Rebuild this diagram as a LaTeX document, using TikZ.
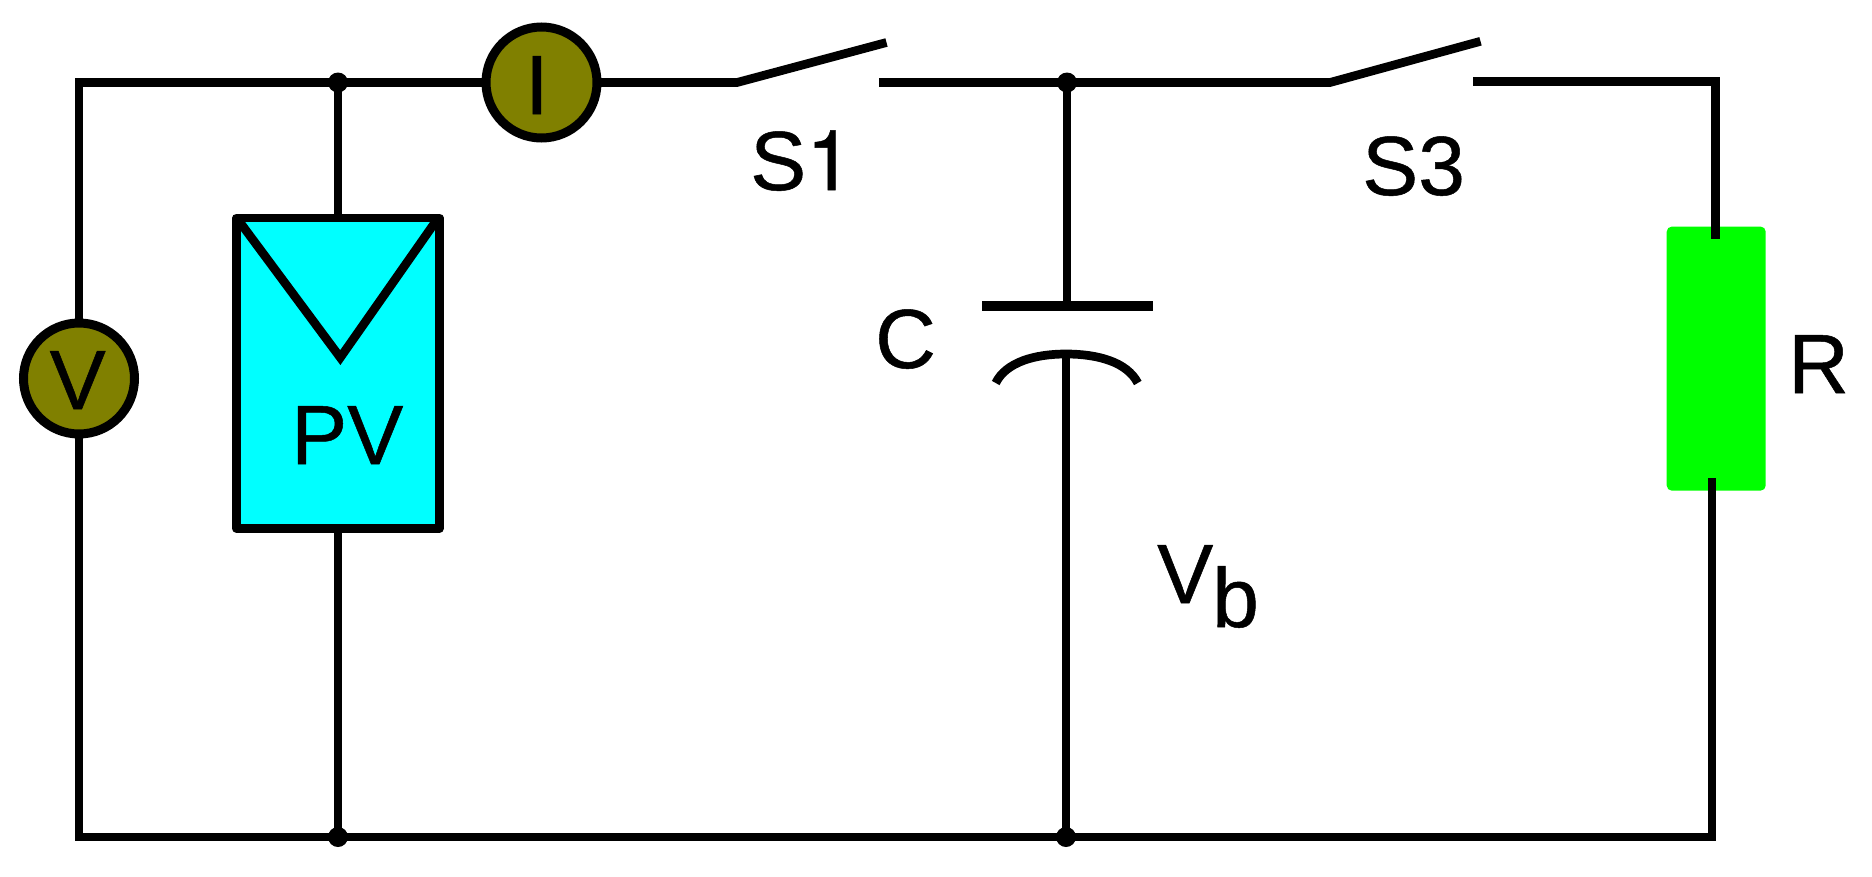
\documentclass[tikz,border=0pt]{standalone}
\usepackage{fontspec}
\setmainfont{Liberation Sans}[FakeBold=0.6]
\newfontfamily\oneface{TeX Gyre Heros}[FakeBold=0.6]
\definecolor{meterolive}{HTML}{808000}
\definecolor{pvcyan}{HTML}{00FFFF}
\definecolor{resgreen}{HTML}{00FF00}
\tikzset{
  wire/.style={line width=8.7pt,draw=black,line cap=butt,line join=miter},
  meter/.style={circle,draw=black,line width=9pt,fill=meterolive,minimum size=111pt,inner sep=0pt,outer sep=0pt},
  joint/.style={circle,fill=black,inner sep=0pt,outer sep=0pt,minimum size=20pt},
  lbl/.style={inner sep=0pt,anchor=base west,font=\fontsize{84}{84}\selectfont,text=black}
}
\begin{document}
\begin{tikzpicture}[x=1pt,y=-1pt]
\useasboundingbox (0,0) rectangle (1872,876);
\fill[white] (0,0) rectangle (1872,876);
% coordinates
\coordinate (tl) at (79,82.5);
\coordinate (bl) at (79,837);
\coordinate (sw1a) at (737,82.5);
\coordinate (sw1b) at (886.5,42.5);
\coordinate (sw1c) at (879.4,82.5);
\coordinate (sw3a) at (1330,82.5);
\coordinate (sw3b) at (1480.5,41.3);
\coordinate (sw3c) at (1473.3,81.6);
\coordinate (tr) at (1715.7,81.6);
\coordinate (rtop) at (1715.7,239);
\coordinate (rbot) at (1712,478);
\coordinate (br) at (1712,837);
\coordinate (capa) at (1067,306);
\coordinate (capl) at (982,306);
\coordinate (capr) at (1153.3,306);
\coordinate (arcl) at (995.7,383);
\coordinate (arcr) at (1137.8,383);
\coordinate (arct) at (1066,354);
\coordinate (pvA) at (239,221);
\coordinate (pvB) at (340.3,357.6);
\coordinate (pvC) at (436,221);
% resistor body
\node[fill=resgreen,rounded corners=5pt,inner sep=0pt,minimum width=99pt,minimum height=264pt] (res) at (1716.2,358.6) {};
% PV panel
\node[rectangle,draw=black,fill=pvcyan,line width=8.7pt,line join=round,inner sep=0pt,outer sep=0pt,minimum width=203pt,minimum height=310.5pt] (pv) at (337.9,373.2) {};
\draw[wire] (pvA) -- (pvB) -- (pvC);
% meters
\node[meter] (mI) at (541.5,82.5) {};
\node[meter] (mV) at (79,378.5) {};
% junctions
\node[joint] (jtl) at (338,82.5) {};
\node[joint] (jtc) at (1067,82.5) {};
\node[joint] (jbl) at (338,837) {};
\node[joint] (jbc) at (1066,837) {};
% wires
\draw[wire] (mV) -- (tl) -- (jtl.center);
\draw[wire] (jtl.center) -- (mI);
\draw[wire] (mI) -- (sw1a) -- (sw1b);
\draw[wire] (sw1c) -- (jtc.center);
\draw[wire] (jtc.center) -- (sw3a) -- (sw3b);
\draw[wire] (sw3c) -- (tr) -- (rtop);
\draw[wire] (rbot) -- (br) -- (jbc.center);
\draw[wire] (jbc.center) -- (jbl.center);
\draw[wire] (jbl.center) -- (bl) -- (mV);
\draw[wire] (jtl.center) -- (jtl |- pv.north);
\draw[wire] (jbl.center) -- (jbl |- pv.south);
\draw[wire] (jtc.center) -- (capa);
\draw[line width=9.5pt] (capl) -- (capr);
\draw[wire] (arct) -- (jbc.center);
\draw[wire] (arcl) .. controls (1006,362) and (1035,354) .. (arct) .. controls (1098,354) and (1127,362) .. (arcr);
% labels
\node[lbl] (tI) at (525,114) {I};
\node[lbl] (tV) at (49.5,409) {V};
\node[lbl] (tPV) at (291,464) {PV};
\node[lbl] (tS1) at (750,190) {S{\oneface 1}};
\node[lbl] (tS3) at (1362,195) {S3};
\node[lbl] (tC) at (875,368) {C};
\node[lbl] (tVb) at (1157,603) {V};
\node[lbl] (tb) at (1212,627) {b};
\node[lbl] (tR) at (1788,393) {R};
\end{tikzpicture}
\end{document}
